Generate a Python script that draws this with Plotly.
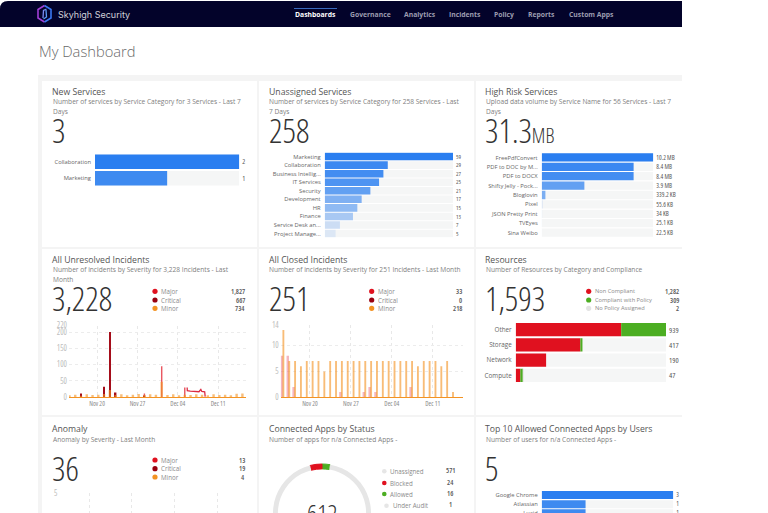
import pandas as pd
import plotly.graph_objects as go

W = 768
H = 600  # taller than the window, the bottom row runs past the fold

NAV_ITEMS = ["Dashboards", "Governance", "Analytics", "Incidents", "Policy", "Reports", "Custom Apps"]

new_cats = ["Collaboration", "Marketing"]
new_vals = [2, 1]
new_fade = [1, 0.9]

unassigned_cats = ["Marketing", "Collaboration", "Business Intellig...", "IT Services", "Security",
                   "Development", "HR", "Finance", "Service Desk an...", "Project Manage..."]
unassigned_vals = [59, 29, 27, 25, 21, 17, 15, 13, 7, 5]
unassigned_fade = [1, 0.92, 0.88, 0.82, 0.72, 0.58, 0.5, 0.38, 0.2, 0.12]

risk_cats = ["FreePdfConvert", "PDF to DOC by M...", "PDF to DOCX", "Shifty Jelly - Pock...", "Bloglovin",
             "Pixel", "JSON Pretty Print", "TVEyes", "Sina Weibo"]
risk_vals = [10.2, 8.4, 8.4, 3.9, 0.339, 0.056, 0.034, 0.025, 0.022]
risk_labels = ["10.2 MB", "8.4 MB", "8.4 MB", "3.9 MB", "339.2 KB", "55.6 KB", "34 KB", "25.1 KB", "22.5 KB"]
risk_fade = [1, 0.92, 0.88, 0.72, 0.6, 0.3, 0.2, 0.15, 0.1]

# one value per day, Nov 15 to Dec 15
open_minor = [6, 8, 5, 9, 7, 8, 10, 22, 7, 9, 6, 8, 10, 7, 9, 8, 48, 7, 9, 6, 8, 7, 9, 8, 6, 9, 7, 8, 6, 11, 12]
open_critical = [0, 0, 12, 0, 0, 0, 32, 200, 15, 0, 0, 0, 0, 5, 0, 0, 0, 0, 0, 0, 0, 0, 0, 0, 0, 0, 0, 0, 0, 0, 0]
open_major = [0, 0, 0, 0, 0, 0, 0, 60, 0, 0, 0, 0, 0, 12, 0, 0, 95, 0, 0, 0, 30, 0, 0, 0, 0, 0, 0, 0, 0, 0, 0]
plateau_times = ["2023-12-05 15:00", "2023-12-05 15:30", "2023-12-06 04:00", "2023-12-06 16:00", "2023-12-07 04:00",
                 "2023-12-07 16:00", "2023-12-08 00:00", "2023-12-08 04:00", "2023-12-08 16:00", "2023-12-08 18:00"]
plateau_vals = [30, 20, 19, 18, 19, 17, 24, 18, 17, 2]

closed_minor = [13, 7, 7, 6, 7, 7, 7, 5, 7, 7, 7, 7, 7, 7, 7, 7, 7, 7, 7, 7, 7, 7, 7, 6, 7, 7, 7, 6, 7, 1, 0]
closed_major = [8, 8, 2, 0, 0, 0, 0, 0, 0, 0, 1, 0, 0, 0, 1, 2, 1, 0, 0, 0, 0, 0, 2, 0, 0, 0, 0, 0, 0, 0, 0]

res_cats = ["Other", "Storage", "Network", "Compute"]
res_non_compliant = [659, 404, 190, 29]
res_compliant = [280, 13, 0, 16]
res_no_policy = [0, 0, 0, 2]
res_totals = [939, 417, 190, 47]

anomaly_minor = [0, 0, 1, 0, 0, 0, 0, 1, 0, 0, 0, 0, 1, 0, 0, 0, 0, 0, 0, 1, 0, 0, 0, 0, 0, 0, 0, 0, 0, 0, 0]
anomaly_critical = [0, 1, 0, 0, 2, 0, 1, 0, 2, 0, 1, 0, 0, 2, 0, 1, 0, 2, 0, 0, 1, 0, 2, 0, 1, 0, 0, 1, 0, 1, 0]
anomaly_major = [1, 0, 0, 1, 0, 1, 0, 0, 1, 0, 1, 0, 0, 1, 0, 0, 1, 0, 1, 0, 0, 1, 0, 1, 0, 0, 1, 0, 1, 0, 0]

apps_status = ["Allowed", "Blocked", "Unassigned", "Under Audit"]
apps_vals = [16, 24, 571, 1]

top_apps_cats = ["Google Chrome", "Atlassian", "Lucid"]
top_apps_vals = [3, 1, 1]
top_apps_fade = [1, 0.9, 0.9]

week_ticks = ["2023-11-20", "2023-11-27", "2023-12-04", "2023-12-11"]
week_labels = ["Nov 20", "Nov 27", "Dec 04", "Dec 11"]

BLUE = "42,126,240"
RED = "#e0111f"
DARK_RED = "#98000f"
ORANGE = "#f39323"
GREEN = "#4cae22"
GREY = "#e3e3e3"
TRACK = "#f5f6f6"
SANS = "Open Sans"


def px(x):
    return x / W


def py(y):
    return 1 - y / H


def cond(s):
    return f"<span style='font-stretch:75%'>{s}</span>"


fig = go.Figure()
shapes = []
notes = []
axes = {}


def rect(x0, y0, x1, y1, color):
    shapes.append(dict(type="rect", xref="paper", yref="paper", x0=px(x0), x1=px(x1), y0=py(y1), y1=py(y0),
                       fillcolor=color, line_width=0, layer="below"))


def dot(x, y, color, r=2.6):
    shapes.append(dict(type="circle", xref="paper", yref="paper", x0=px(x - r), x1=px(x + r), y0=py(y + r), y1=py(y - r),
                       fillcolor=color, line_width=0))


def path(points, color, width=1.5):
    d = " ".join(f"{c}{px(x):.5f},{py(y):.5f}" for c, x, y in points)
    shapes.append(dict(type="path", xref="paper", yref="paper", path=d, line=dict(color=color, width=width)))


def text(x, y, s, size=7, color="#777", anchor="left", weight=None):
    notes.append(dict(xref="paper", yref="paper", x=px(x), y=py(y), text=s, showarrow=False, borderpad=0,
                      xanchor=anchor, yanchor="middle", font=dict(size=size, color=color, family=SANS, weight=weight)))


def add_axes(n, x0, x1, y0, y1, xaxis, yaxis):
    axes[f"xaxis{n}"] = dict(domain=[px(x0), px(x1)], anchor=f"y{n}", automargin=False, **xaxis)
    axes[f"yaxis{n}"] = dict(domain=[py(y1), py(y0)], anchor=f"x{n}", automargin=False, **yaxis)


def panel_text(x, y, title, sub):
    text(x - 1, y, title, size=8.7, color="#555")
    for i, line in enumerate(sub):
        text(x - 0.5, y + 10 + i * 10, line, size=6.6, color="#808080")


def big_number(x, y, s):
    text(x - 1, y, cond(s), size=33, color="#333", weight=300)


def legend_rows(dot_x, y_list, labels, colors, values, value_x, size=6.2):
    for y, lab, col, val in zip(y_list, labels, colors, values):
        dot(dot_x, y, col)
        text(dot_x + 5, y, lab, size=size, color="#8a8a8a")
        text(value_x, y, cond(val), size=7, color="#555", anchor="right", weight=600)


def hbar_panel(n, x0, x1, y0, y1, cats, vals, fade, labels):
    xa = f"x{n}"
    ya = f"y{n}"
    add_axes(n, x0, x1, y0, y1,
             dict(range=[0, max(vals)], visible=False),
             dict(autorange="reversed", type="category", categoryorder="array", categoryarray=cats, showline=False,
                  showgrid=False, ticks="", ticklabelstandoff=3, tickfont=dict(size=5.8, color="#666", family=SANS)))
    fig.add_trace(go.Bar(y=cats, x=[max(vals)] * len(vals), orientation="h", marker=dict(color=TRACK, line_width=0),
                         text=[cond(v) for v in labels], textposition="outside", cliponaxis=False,
                         textfont=dict(size=7, color="#555", family=SANS), xaxis=xa, yaxis=ya))
    colors = [f"rgba({BLUE},{a})" for a in fade]
    fig.add_trace(go.Bar(y=cats, x=vals, orientation="h", marker=dict(color=colors, line_width=0),
                         xaxis=xa, yaxis=ya))


def date_axis(start, end, ticks=week_ticks, labels=week_labels, line=True):
    return dict(type="date", range=[start, end], tickvals=ticks, ticktext=[cond(s) for s in labels], showgrid=True,
                gridcolor="#e8e8e8", griddash="dot", gridwidth=1, showline=line, linecolor=ORANGE, linewidth=1.3,
                ticks="", zeroline=False, tickfont=dict(size=6.5, color="#888", family=SANS))


def count_axis(rng, ticks):
    return dict(range=rng, tickvals=ticks, ticktext=[cond(t) for t in ticks], showgrid=True, gridcolor="#ececec",
                griddash="dot", gridwidth=1, zeroline=False, showline=False, ticks="", ticklabelstandoff=1,
                tickfont=dict(size=8, color="#bdbdbd", family=SANS))


def day_bars(n, vals, color, start, width=0.3):
    days = pd.date_range(start, periods=len(vals))
    fig.add_trace(go.Bar(x=days, y=vals, width=width * 86400000, marker=dict(color=color, line_width=0),
                         xaxis=f"x{n}", yaxis=f"y{n}"))


# page chrome
rect(38, 75, 682, 600, "#f4f4f4")
for x0, x1 in [(42, 257), (259, 474), (476, 682)]:
    rect(x0, 81, x1, 247, "#ffffff")
    rect(x0, 249, x1, 415, "#ffffff")
    rect(x0, 417, x1, 600, "#ffffff")

shapes.append(dict(type="path", xref="paper", yref="paper", line_width=0, fillcolor="#03032a", layer="below",
                   path=f"M0,{py(27)} L0,{py(9)} Q0,{py(1)} {px(8)},{py(1)} L{px(682)},{py(1)} L{px(682)},{py(27)} Z"))

# logo
path([("M", 44.5, 5.5), ("L", 38, 9.5), ("L", 38, 18), ("L", 44.5, 22)], "#a23fd6", 1.6)
path([("M", 44.5, 5.5), ("L", 51, 9.5), ("L", 51, 18), ("L", 44.5, 22)], "#3a78f2", 1.6)
path([("M", 46.5, 9), ("L", 43.5, 10.5), ("L", 43, 18)], "#7a8cf0", 1.3)
path([("M", 46, 10), ("L", 46.5, 17), ("L", 43.5, 19)], "#5a9cf5", 1.3)

notes.append(dict(xref="paper", yref="paper", x=px(57), y=py(14.5), text="Skyhigh Security", showarrow=False, borderpad=0,
                  xanchor="left", yanchor="middle", font=dict(size=9, color="#d0d0d8", family="Inter")))
nav_x = [294, 349, 403, 448, 493, 527, 568]
for i, (name, x) in enumerate(zip(NAV_ITEMS, nav_x)):
    text(x, 14.5, name, size=6.8, color="#ffffff" if i == 0 else "#9c9cb0", weight="bold")
rect(294, 8, 337, 8.8, "#4d8df0")

text(37.5, 51, "My Dashboard", size=14.7, color="#6a6a6a", weight=300)

# row 1
panel_text(52, 91.7, "New Services", ["Number of services by Service Category for 3 Services - Last 7", "Days"])
big_number(52, 130, "3")
hbar_panel(1, 95, 239.3, 153.4, 186.4, new_cats, new_vals, new_fade, new_vals)

panel_text(268.7, 91.7, "Unassigned Services", ["Number of services by Service Category for 258 Services - Last", "7 Days"])
big_number(268.7, 130, "258")
hbar_panel(2, 324.7, 453, 152.3, 237.8, unassigned_cats, unassigned_vals, unassigned_fade, unassigned_vals)

panel_text(485.3, 91.7, "High Risk Services", ["Upload data volume by Service Name for 56 Services - Last 7", "Days"])
big_number(485.3, 130, "31.3<span style='font-size:20px'>MB</span>")
hbar_panel(3, 541.7, 653.3, 152.8, 237.2, risk_cats, risk_vals, risk_fade, risk_labels)

# row 2, unresolved
panel_text(52, 259.7, "All Unresolved Incidents", ["Number of incidents by Severity for 3,228 Incidents - Last", "Month"])
big_number(52, 298.7, "3,228")
legend_rows(155, [291.3, 300, 308.3], ["Major", "Critical", "Minor"], [RED, DARK_RED, ORANGE],
            ["1,827", "667", "734"], 246)
add_axes(4, 69, 246, 325.5, 397.3, date_axis("2023-11-15 03:00", "2023-12-15 20:00"),
         count_axis([0, 220], [0, 50, 100, 150, 200, 220]))
day_bars(4, open_major, "rgba(224,17,31,0.7)", "2023-11-15 05:00", 0.25)
day_bars(4, open_critical, "#a50d1a", "2023-11-15 05:00", 0.28)
day_bars(4, open_minor, "rgba(243,147,35,0.6)", "2023-11-15 05:00", 0.42)
fig.add_trace(go.Scatter(x=plateau_times, y=plateau_vals, mode="lines", line=dict(color="#dc2a42", width=1.3),
                         xaxis="x4", yaxis="y4"))

# row 2, closed
panel_text(268.7, 259.7, "All Closed Incidents", ["Number of incidents by Severity for 251 Incidents - Last Month"])
big_number(268.7, 298.7, "251")
legend_rows(371.7, [291.3, 300, 308.3], ["Major", "Critical", "Minor"], [RED, DARK_RED, ORANGE],
            ["33", "0", "218"], 463)
add_axes(5, 280.7, 463, 324.8, 397.3, date_axis("2023-11-15 00:00", "2023-12-16 04:00"),
         count_axis([0, 14], [0, 5, 10, 14]))
day_bars(5, closed_major, "rgba(232,80,100,0.42)", "2023-11-15 05:00", 0.42)
day_bars(5, closed_minor, "rgba(243,147,35,0.62)", "2023-11-15 11:00", 0.32)

# row 2, resources
panel_text(485.3, 259.7, "Resources", ["Number of Resources by Category and Compliance"])
big_number(485.3, 298.7, "1,593")
legend_rows(588.7, [291.3, 300, 308.3], ["Non Compliant", "Compliant with Policy", "No Policy Assigned"],
            [RED, GREEN, GREY], ["1,282", "309", "2"], 680, size=5.7)
add_axes(6, 515.7, 666, 322, 383,
         dict(range=[0, max(res_totals)], visible=False),
         dict(autorange="reversed", type="category", categoryorder="array", categoryarray=res_cats, showgrid=False,
              ticks="", ticklabelstandoff=3, tickfont=dict(size=6.3, color="#666", family=SANS)))
fig.add_trace(go.Bar(y=res_cats, x=[max(res_totals)] * 4, orientation="h", marker=dict(color=TRACK, line_width=0),
                     text=[cond(v) for v in res_totals], textposition="outside", cliponaxis=False,
                     textfont=dict(size=7.5, color="#555", family=SANS), xaxis="x6", yaxis="y6"))
res_base = [0, 0, 0, 0]
for vals, col in [(res_non_compliant, RED), (res_compliant, GREEN), (res_no_policy, GREY)]:
    fig.add_trace(go.Bar(y=res_cats, x=vals, base=res_base, orientation="h", marker=dict(color=col, line_width=0),
                         xaxis="x6", yaxis="y6"))
    res_base = [a + b for a, b in zip(res_base, vals)]

# row 3, anomaly, its date labels sit below the fold
panel_text(52, 429, "Anomaly", ["Anomaly by Severity - Last Month"])
big_number(52, 468, "36")
legend_rows(155, [460, 468.7, 477], ["Major", "Critical", "Minor"], [RED, DARK_RED, ORANGE], ["13", "19", "4"], 246)
anomaly_x = date_axis("2023-11-15 02:00", "2023-12-15 18:00", ["2023-11-15 03:00"] + week_ticks, [""] + week_labels, False)
anomaly_x["showticklabels"] = False
add_axes(7, 59.3, 246, 493.3, 560, anomaly_x, count_axis([0, 5], [0, 5]))
day_bars(7, anomaly_major, RED, "2023-11-15 12:00", 0.25)
day_bars(7, anomaly_critical, DARK_RED, "2023-11-15 12:00", 0.25)
day_bars(7, anomaly_minor, ORANGE, "2023-11-15 12:00", 0.25)

# row 3, connected apps
panel_text(268.7, 429, "Connected Apps by Status", ["Number of apps for n/a Connected Apps -"])
fig.add_trace(go.Pie(labels=apps_status, values=apps_vals, hole=0.9, sort=False, direction="counterclockwise",
                     rotation=0, textinfo="none", showlegend=False,
                     marker=dict(colors=[GREEN, RED, "#e6e6e6", "#e6e6e6"],
                                 line=dict(color=[GREEN, RED, "rgba(0,0,0,0)", "rgba(0,0,0,0)"], width=1)),
                     domain=dict(x=[px(273), px(371)], y=[py(562), py(464)])))
text(322.3, 513, cond("612"), size=25, color="#333", anchor="center", weight=300)
status_rows = [("Unassigned", "#e6e6e6", "571", 471.3, 384.3), ("Blocked", RED, "24", 483, 384.3),
               ("Allowed", GREEN, "16", 494, 384.3), ("Under Audit", "#e6e6e6", "1", 505.7, 386.5)]
for name, col, val, y, x in status_rows:
    dot(x, y, col, 2.3)
    text(x + 5, y, name, size=6.2, color="#8a8a8a")
    text(450, y - 1, cond(val), size=7, color="#555", anchor="center", weight=600)

# row 3, top apps
panel_text(485.3, 429, "Top 10 Allowed Connected Apps by Users", ["Number of users for n/a Connected Apps -"])
big_number(485.3, 468, "5")
hbar_panel(8, 541.7, 673.3, 490.5, 517.8, top_apps_cats, top_apps_vals, top_apps_fade, top_apps_vals)

fig.update_layout(width=W, height=H, margin=dict(l=0, r=0, t=0, b=0), paper_bgcolor="#ffffff", plot_bgcolor="rgba(0,0,0,0)",
                  barmode="overlay", bargap=0.12, showlegend=False, hovermode=False,
                  shapes=shapes, annotations=notes, **axes)

fig.write_html("out.html", config=dict(displayModeBar=False), post_script=(
    "var gd=document.getElementById('{plot_id}');"
    "document.documentElement.style.overflow='hidden';"
    "document.body.style.margin='0';document.body.style.overflow='hidden';document.body.style.height='513px';"
    "gd.parentElement.style.height='513px';gd.parentElement.style.overflow='hidden';"))
